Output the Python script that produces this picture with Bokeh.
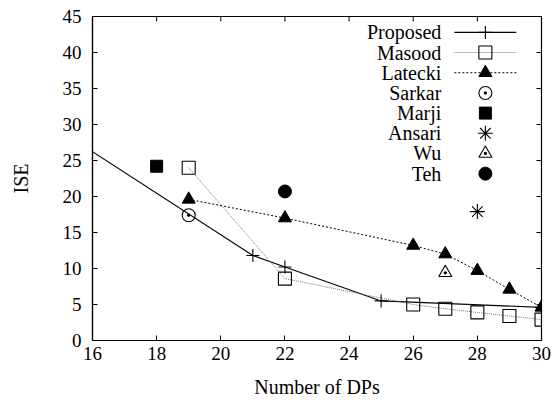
from bokeh.plotting import figure
from bokeh.models import Range1d, FixedTicker
from bokeh.embed import file_html
from bokeh.resources import INLINE
from bokeh.core.properties import value

# ---- data ----
proposed_x = [15, 21, 22, 25, 30]
proposed_y = [29.1, 11.8, 10.2, 5.5, 4.6]
masood_x = [19, 22, 26, 27, 28, 29, 30]
masood_y = [24.0, 8.6, 5.0, 4.4, 3.9, 3.4, 2.9]
latecki_x = [19, 22, 26, 27, 28, 29, 30]
latecki_y = [19.6, 17.0, 13.2, 12.0, 9.7, 7.1, 4.6]
sarkar_x = [19]
sarkar_y = [17.4]
marji_x = [18]
marji_y = [24.2]
ansari_x = [28]
ansari_y = [17.9]
wu_x = [27]
wu_y = [9.4]
teh_x = [22]
teh_y = [20.7]
x_ticks = [16, 18, 20, 22, 24, 26, 28, 30]
y_ticks = [0, 5, 10, 15, 20, 25, 30, 35, 40, 45]

FONT = "Liberation Serif"

p = figure(width=555, height=405, output_backend="svg", toolbar_location=None,
           x_range=Range1d(16, 30), y_range=Range1d(0, 45),
           min_border_left=92, min_border_right=14, min_border_top=16, min_border_bottom=65)
p.grid.visible = False
p.outline_line_color = "black"
p.outline_line_width = 1.2
p.background_fill_color = "white"
p.border_fill_color = "white"

for ax in (p.xaxis[0], p.yaxis[0]):
    ax.major_tick_in = 5
    ax.major_tick_out = 0
    ax.minor_tick_line_color = None
    ax.axis_line_color = "black"
    ax.axis_line_width = 1.2
    ax.major_label_text_font = FONT
    ax.major_label_text_font_size = "19px"
    ax.major_label_text_color = "black"
    ax.axis_label_text_font = FONT
    ax.axis_label_text_font_size = "20px"
    ax.axis_label_text_font_style = "normal"
    ax.axis_label_text_color = "black"
p.xaxis.ticker = FixedTicker(ticks=x_ticks)
p.yaxis.ticker = FixedTicker(ticks=y_ticks)
p.xaxis.axis_label = "Number of DPs"
p.yaxis.axis_label = "ISE"
p.xaxis.major_label_standoff = 6
p.xaxis.axis_label_standoff = 13
p.yaxis.major_label_standoff = 11
p.yaxis.axis_label_standoff = 28

# fractional frame ranges for legend and mirrored ticks
p.extra_x_ranges = {"leg": Range1d(0, 1)}
p.extra_y_ranges = {"leg": Range1d(0, 1)}

# mirrored ticks (top and right), inward
tick_fx = 5 / 449
tick_fy = 5 / 324
p.segment(x0=x_ticks, y0=[1] * len(x_ticks), x1=x_ticks, y1=[1 - tick_fy] * len(x_ticks),
          line_color="black", line_width=1, y_range_name="leg")
p.segment(x0=[1] * len(y_ticks), y0=y_ticks, x1=[1 - tick_fx] * len(y_ticks), y1=y_ticks,
          line_color="black", line_width=1, x_range_name="leg")

# ---- series ----
p.line(proposed_x, proposed_y, line_color="black", line_width=1.1)
p.scatter(proposed_x, proposed_y, marker="cross", size=13, line_color="black", line_width=1.1)

p.line(masood_x, masood_y, line_color="#777777", line_width=1, line_dash="1 1")
p.scatter(masood_x, masood_y, marker="square", size=13, line_color="black",
          fill_color=None, line_width=1.1)

p.line(latecki_x, latecki_y, line_color="black", line_width=1, line_dash="2 2")
p.scatter(latecki_x, latecki_y, marker="triangle", size=13, line_color="black", fill_color="black")

p.scatter(sarkar_x, sarkar_y, marker="circle_dot", size=13, line_color="black", fill_color=None, line_width=1.1)
p.scatter(marji_x, marji_y, marker="square", size=12, line_color="black", fill_color="black")
p.scatter(ansari_x, ansari_y, marker="asterisk", size=15, line_color="black", line_width=1.1)
p.scatter(wu_x, wu_y, marker="triangle_dot", size=13, line_color="black", fill_color=None, line_width=1.1)
p.scatter(teh_x, teh_y, marker="circle", size=13, line_color="black", fill_color="black")

# ---- gnuplot-style legend (frame-fraction coordinates) ----
labels = ["Proposed", "Masood", "Latecki", "Sarkar", "Marji", "Ansari", "Wu", "Teh"]
y0, dy = 0.951, 0.0623
tx, lx0, lx1, mx = 0.777, 0.806, 0.944, 0.875
rows = [y0 - i * dy for i in range(len(labels))]
p.text([tx] * len(labels), rows, text=labels, text_align="right", text_baseline="middle",
       text_font=value(FONT), text_font_size="20px", text_color="black",
       x_range_name="leg", y_range_name="leg")
p.line([lx0, lx1], [rows[0]] * 2, line_color="black", line_width=1.1, x_range_name="leg", y_range_name="leg")
p.scatter([mx], [rows[0]], marker="cross", size=13, line_color="black", line_width=1.1,
          x_range_name="leg", y_range_name="leg")
p.line([lx0, lx1], [rows[1]] * 2, line_color="#777777", line_width=1, line_dash="1 1",
       x_range_name="leg", y_range_name="leg")
p.scatter([mx], [rows[1]], marker="square", size=13, line_color="black", fill_color=None, line_width=1.1,
          x_range_name="leg", y_range_name="leg")
p.line([lx0, lx1], [rows[2]] * 2, line_color="black", line_width=1, line_dash="2 2",
       x_range_name="leg", y_range_name="leg")
p.scatter([mx], [rows[2]], marker="triangle", size=13, line_color="black", fill_color="black",
          x_range_name="leg", y_range_name="leg")
p.scatter([mx], [rows[3]], marker="circle_dot", size=13, line_color="black", fill_color=None, line_width=1.1,
          x_range_name="leg", y_range_name="leg")
p.scatter([mx], [rows[4]], marker="square", size=12, line_color="black", fill_color="black",
          x_range_name="leg", y_range_name="leg")
p.scatter([mx], [rows[5]], marker="asterisk", size=15, line_color="black", line_width=1.1,
          x_range_name="leg", y_range_name="leg")
p.scatter([mx], [rows[6]], marker="triangle_dot", size=13, line_color="black", fill_color=None, line_width=1.1,
          x_range_name="leg", y_range_name="leg")
p.scatter([mx], [rows[7]], marker="circle", size=13, line_color="black", fill_color="black",
          x_range_name="leg", y_range_name="leg")

open("out.html", "w").write(file_html(p, INLINE))
